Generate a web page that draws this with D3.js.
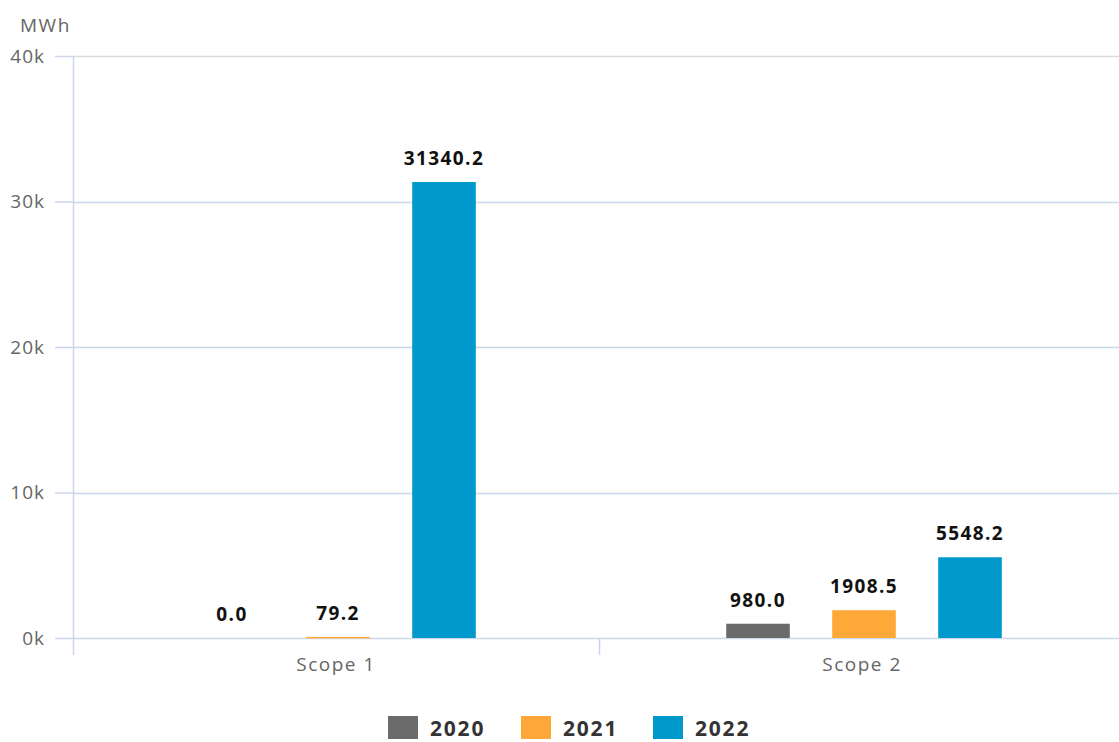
<!DOCTYPE html>
<html>
<head>
<meta charset="utf-8">
<script src="https://cdn.jsdelivr.net/npm/d3@7"></script>
<style>
  body { margin: 0; background: #fff; }
  svg { font-family: "Open Sans", "Noto Sans", sans-serif; }
</style>
</head>
<body>
<svg id="drawing_region"></svg>
<script>
const categories = ['Scope 1', 'Scope 2'];
const years = ['2020', '2021', '2022'];
const values2020 = [0.0, 980.0];
const values2021 = [79.2, 1908.5];
const values2022 = [31340.2, 5548.2];
const colors = ['#6b6b6b', '#ffa83a', '#0099cc'];
const yticks = [0, 10000, 20000, 30000, 40000];

const series = [values2020, values2021, values2022];
const data = categories.map((c, i) => ({
    label: c,
    values: years.map((y, j) => ({ year: y, value: series[j][i], color: colors[j] }))
}));

const width = 1119, height = 742;
const margin = {top: 56, right: -6, bottom: 104, left: 73};
const inner_width = width - margin.left - margin.right;
const inner_height = height - margin.top - margin.bottom;

const svg = d3.select('#drawing_region')
    .attr('width', width)
    .attr('height', height);

const chart = svg.append('g')
    .attr('transform', `translate(${margin.left}, ${margin.top})`);

const yscale = d3.scaleLinear()
    .domain([0, 40000])
    .range([inner_height, 0]);

const xscale = d3.scaleBand()
    .domain(categories)
    .range([0, inner_width]);

const bw = xscale.bandwidth();
const group_w = 318;
const inner = d3.scaleBand()
    .domain(years)
    .range([bw / 2 + 2 - group_w / 2, bw / 2 + 2 + group_w / 2])
    .paddingInner(0.4)
    .paddingOuter(0.2);

// grid lines
chart.append('g').selectAll('line')
    .data(yticks)
    .join('line')
    .attr('x1', 0)
    .attr('x2', inner_width)
    .attr('y1', d => Math.round(yscale(d)) + 0.5)
    .attr('y2', d => Math.round(yscale(d)) + 0.5)
    .attr('stroke', d => d === 40000 ? '#dcdcdc' : '#ccd6eb')
    .attr('stroke-width', 1.5);

// y axis
const yaxis = d3.axisLeft(yscale)
    .tickValues(yticks)
    .tickFormat(d => (d / 1000) + 'k')
    .tickSize(18)
    .tickPadding(10);

const yaxis_group = chart.append('g').call(yaxis);
yaxis_group.select('.domain').remove();
yaxis_group.selectAll('.tick line').attr('stroke', '#ccd6eb').attr('stroke-width', 1.5);
yaxis_group.selectAll('.tick text')
    .attr('fill', '#666')
    .style('font-size', '19px')
    .style('letter-spacing', '1px')
    .style('font-family', '"Open Sans", sans-serif');

chart.append('line')
    .attr('x1', 0.5).attr('x2', 0.5)
    .attr('y1', 0).attr('y2', inner_height + 17)
    .attr('stroke', '#ccd6eb')
    .attr('stroke-width', 1.5);

// x axis
const xaxis = d3.axisBottom(xscale)
    .tickSize(0)
    .tickPadding(20);
const xaxis_group = chart.append('g')
    .attr('transform', `translate(0, ${inner_height})`)
    .call(xaxis);
xaxis_group.select('.domain').remove();
xaxis_group.selectAll('.tick text')
    .attr('fill', '#666')
    .style('font-size', '19px')
    .style('letter-spacing', '1.5px')
    .style('font-family', '"Open Sans", sans-serif');

chart.append('g').selectAll('line')
    .data(categories.slice(1))
    .join('line')
    .attr('x1', d => Math.round(xscale(d)) + 0.5)
    .attr('x2', d => Math.round(xscale(d)) + 0.5)
    .attr('y1', inner_height)
    .attr('y2', inner_height + 17)
    .attr('stroke', '#ccd6eb')
    .attr('stroke-width', 1.5);

// unit label
svg.append('text')
    .attr('x', 20)
    .attr('y', 32)
    .attr('fill', '#666')
    .style('font-size', '19px')
    .style('letter-spacing', '1.5px')
    .text('MWh');

// bars
const groups = chart.selectAll('.group')
    .data(data)
    .join('g')
    .attr('class', 'group')
    .attr('transform', d => `translate(${xscale(d.label)}, 0)`);

groups.selectAll('rect')
    .data(d => d.values)
    .join('rect')
    .attr('x', d => inner(d.year))
    .attr('y', d => yscale(d.value))
    .attr('width', inner.bandwidth())
    .attr('height', d => Math.max(d.value > 0 ? 1.5 : 0, inner_height - yscale(d.value)))
    .attr('fill', d => d.color);

groups.selectAll('text')
    .data(d => d.values)
    .join('text')
    .attr('x', d => inner(d.year) + inner.bandwidth() / 2)
    .attr('y', d => yscale(d.value) - 17)
    .attr('text-anchor', 'middle')
    .attr('fill', '#111')
    .style('font-size', '19px')
    .style('font-weight', 'bold')
    .style('letter-spacing', '1.4px')
    .text(d => d.value.toFixed(1));

// legend
const legend_x = [388, 521, 653];
const legend = svg.append('g').selectAll('g')
    .data(years)
    .join('g')
    .attr('transform', (d, i) => `translate(${legend_x[i]}, 716)`);
legend.append('rect')
    .attr('width', 30)
    .attr('height', 23)
    .attr('fill', (d, i) => colors[i]);
legend.append('text')
    .attr('x', 42)
    .attr('y', 20)
    .attr('fill', '#333')
    .style('font-size', '21px')
    .style('font-weight', 'bold')
    .style('letter-spacing', '1.8px')
    .text(d => d);
</script>
</body>
</html>
